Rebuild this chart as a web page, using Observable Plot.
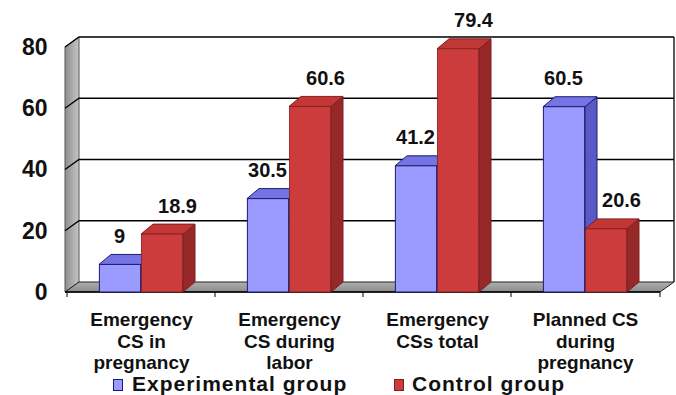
<!DOCTYPE html>
<html>
<head>
<meta charset="utf-8">
<script src="https://cdn.jsdelivr.net/npm/d3@7"></script>
<script src="https://cdn.jsdelivr.net/npm/@observablehq/plot@0.6"></script>
<style>
  body { margin: 0; background: #fff; font-family: "Liberation Sans", Arial, sans-serif; }
  #chart { position: relative; width: 676px; height: 395px; overflow: hidden; background: #fff; }
  #chart svg { position: absolute; left: 0; top: 0; }
  #legend { position: absolute; left: 0; top: 374px; width: 676px; height: 21px; }
  #legend .sw { position: absolute; top: 5px; width: 8px; height: 10px; border: 1px solid #1a1a6e; }
  #legend .lt { position: absolute; top: 0; font: bold 21px/19px "Liberation Sans", Arial, sans-serif; letter-spacing: 1px; color: #111; white-space: nowrap; }
</style>
</head>
<body>
<div id="chart"></div>
<script>
// Caesarean section rates (%) by group
const categories = [
  "Emergency\nCS in\npregnancy",
  "Emergency\nCS during\nlabor",
  "Emergency\nCSs total",
  "Planned CS\nduring\npregnancy"
];
const groups = ["Experimental group", "Control group"];
const experimental = [9, 30.5, 41.2, 60.5];
const control = [18.9, 60.6, 79.4, 20.6];
const yTicks = [0, 20, 40, 60, 80];

const rows = categories.flatMap((cat, i) => [
  {cat, group: groups[0], value: experimental[i]},
  {cat, group: groups[1], value: control[i]}
]);

// layout and look
const W = 676, H = 372;
const margin = {top: 47, right: 16, bottom: 80, left: 65};
const band = (W - margin.left - margin.right) / categories.length;
const BAR = 42;                 // front width of one column
const WALL = [14, -10];         // depth offset of the back wall
const DEPTH = [12, -10];        // depth offset of a column
const palette = {
  [groups[0]]: {front: "#9a9aff", top: "#7474e4", side: "#5a5ac6", stroke: "#1c1c70"},
  [groups[1]]: {front: "#cc3c3c", top: "#c23636", side: "#962828", stroke: "#7e2020"}
};

// back wall, side wall, floor and grid
function walls(index, {x, y}) {
  const [x0, x1] = x.range();
  const y0 = y(0), yT = y(yTicks[yTicks.length - 1]);
  const [dx, dy] = WALL;
  const g = d3.create("svg:g");
  const defs = g.append("defs");
  const lg = defs.append("linearGradient").attr("id", "sidewall").attr("x1", 0).attr("x2", 1).attr("y1", 0).attr("y2", 0);
  lg.append("stop").attr("offset", 0).attr("stop-color", "#8e8e8e");
  lg.append("stop").attr("offset", 1).attr("stop-color", "#c6c6c6");
  const fg = defs.append("linearGradient").attr("id", "floor").attr("x1", 0).attr("x2", 0).attr("y1", 0).attr("y2", 1);
  fg.append("stop").attr("offset", 0).attr("stop-color", "#b0b0b0");
  fg.append("stop").attr("offset", 1).attr("stop-color", "#8a8a8a");

  // back wall
  g.append("path")
    .attr("d", `M${x0 + dx},${yT + dy}H${x1 + dx}V${y0 + dy}H${x0 + dx}Z`)
    .attr("fill", "#fff");
  // side wall
  g.append("path")
    .attr("d", `M${x0},${y0}V${yT}L${x0 + dx},${yT + dy}V${y0 + dy}Z`)
    .attr("fill", "url(#sidewall)").attr("stroke", "#555").attr("stroke-width", 1);
  // grid lines on both walls
  for (const v of yTicks.slice(1)) {
    const yy = y(v);
    g.append("path")
      .attr("d", `M${x0},${yy}L${x0 + dx},${yy + dy}H${x1 + dx}`)
      .attr("fill", "none").attr("stroke", "#000").attr("stroke-width", 1.3);
  }
  g.append("path")
    .attr("d", `M${x1 + dx},${yT + dy}V${y0 + dy}`)
    .attr("stroke", "#000").attr("stroke-width", 1.3);
  // floor
  g.append("path")
    .attr("d", `M${x0},${y0}H${x1}L${x1 + dx},${y0 + dy}H${x0 + dx}Z`)
    .attr("fill", "url(#floor)").attr("stroke", "#222").attr("stroke-width", 1);
  g.append("path")
    .attr("d", `M${x0},${y0}H${x1}`)
    .attr("stroke", "#000").attr("stroke-width", 1.5);
  // category boundary ticks
  const bounds = categories.map(c => x(c)).concat([x1]);
  for (const bx of bounds) {
    g.append("path").attr("d", `M${bx},${y0}V${y0 + 5}`).attr("stroke", "#000").attr("stroke-width", 1);
  }
  return g.node();
}

// top and side faces of each column
function faces(index, {x, y}) {
  const bw = x.bandwidth();
  const [dx, dy] = DEPTH;
  const g = d3.create("svg:g");
  for (const d of rows) {
    const k = groups.indexOf(d.group);
    const c = palette[d.group];
    const left = x(d.cat) + bw / 2 - BAR + k * BAR, right = left + BAR;
    const top = y(d.value), base = y(0);
    g.append("path")
      .attr("d", `M${right},${top}L${right + dx},${top + dy}V${base + dy}L${right},${base}Z`)
      .attr("fill", c.side).attr("stroke", c.stroke).attr("stroke-width", 1);
    g.append("path")
      .attr("d", `M${left},${top}H${right}L${right + dx},${top + dy}H${left + dx}Z`)
      .attr("fill", c.top).attr("stroke", c.stroke).attr("stroke-width", 1);
  }
  return g.node();
}

const inner = band / 2 - BAR;

const chart = Plot.plot({
  width: W,
  height: H,
  marginTop: margin.top,
  marginRight: margin.right,
  marginBottom: margin.bottom,
  marginLeft: margin.left,
  style: {fontFamily: "Liberation Sans, Arial, sans-serif", background: "transparent", overflow: "visible"},
  x: {type: "band", domain: categories, padding: 0, axis: null},
  y: {domain: [0, 80], axis: null},
  marks: [
    walls,
    faces,
    Plot.barY(rows.filter(d => d.group === groups[0]), {
      x: "cat", y: "value", fill: palette[groups[0]].front,
      stroke: palette[groups[0]].stroke, strokeWidth: 1,
      insetLeft: inner, insetRight: band / 2
    }),
    Plot.barY(rows.filter(d => d.group === groups[1]), {
      x: "cat", y: "value", fill: palette[groups[1]].front,
      stroke: palette[groups[1]].stroke, strokeWidth: 0.8,
      insetLeft: band / 2, insetRight: inner
    }),
    Plot.axisY({
      ticks: yTicks, tickSize: 4, tickPadding: 14, label: null,
      fontSize: 23, fontWeight: "bold", fill: "#111", stroke: null
    }),
    Plot.axisX({
      tickSize: 0, tickPadding: 18, label: null, lineHeight: 1.14,
      fontSize: 19, fontWeight: "bold", fill: "#111"
    }),
    Plot.text(rows.filter(d => d.group === groups[0]), {
      x: "cat", y: "value", text: d => String(d.value),
      dx: -22, dy: -22, lineAnchor: "bottom",
      fontSize: 20, fontWeight: "bold", fill: "#111"
    }),
    Plot.text(rows.filter(d => d.group === groups[1]), {
      x: "cat", y: "value", text: d => String(d.value),
      dx: 36, dy: -22, lineAnchor: "bottom",
      fontSize: 20, fontWeight: "bold", fill: "#111"
    })
  ]
});

const root = document.getElementById("chart");
root.appendChild(chart);

// legend under the plot
const legend = document.createElement("div");
legend.id = "legend";
const legendPos = [{sw: 113, text: 132}, {sw: 394, text: 412}];
groups.forEach((name, i) => {
  const sw = document.createElement("span");
  sw.className = "sw";
  sw.style.left = legendPos[i].sw + "px";
  sw.style.background = palette[name].front;
  sw.style.borderColor = palette[name].stroke;
  const t = document.createElement("span");
  t.className = "lt";
  t.style.left = legendPos[i].text + "px";
  t.textContent = name;
  legend.appendChild(sw);
  legend.appendChild(t);
});
root.appendChild(legend);
</script>
</body>
</html>
